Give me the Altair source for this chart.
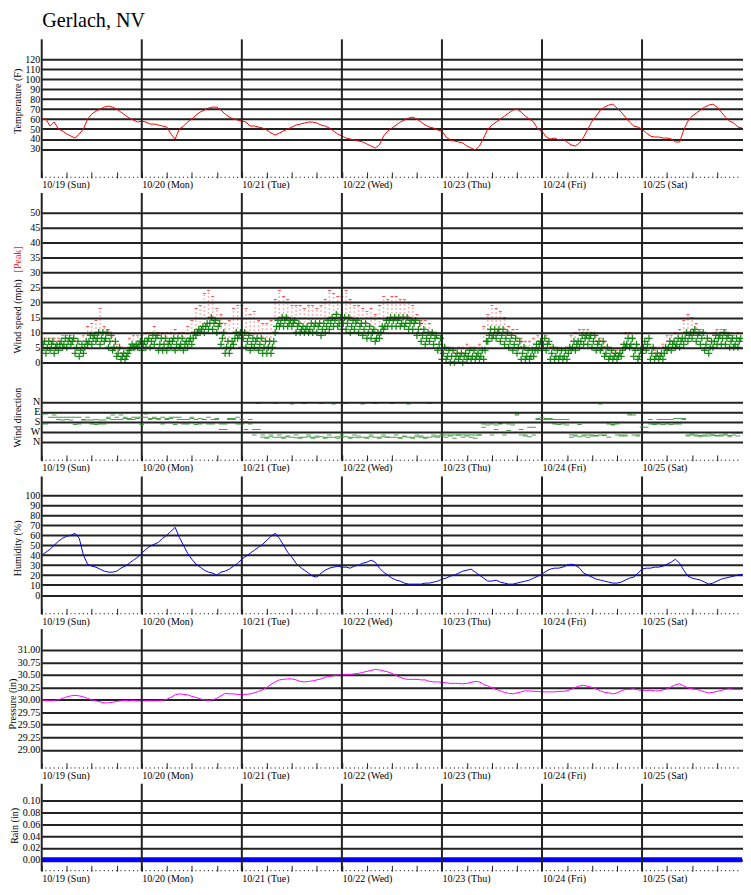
import altair as alt
import pandas as pd

# ---------------- data (hourly) ----------------
DAY_LABELS = ["10/19 (Sun)", "10/20 (Mon)", "10/21 (Tue)", "10/22 (Wed)",
              "10/23 (Thu)", "10/24 (Fri)", "10/25 (Sat)"]
DAY_HOURS = [0, 24, 48, 72, 96, 120, 144]
MAJOR_TICKS = list(range(0, 163, 6))
MINOR_TICKS = list(range(0, 168))

temperature = [
    60, 60, 53, 57, 50, 48, 45, 43, 41, 45, 50, 60, 65, 68, 70, 72, 73, 72, 70, 67, 64, 61, 59, 57,
    58, 57, 55, 55, 54, 53, 52, 45, 40, 50, 53, 57, 60, 64, 67, 69, 71, 72, 72, 69, 65, 62, 60, 59,
    58, 57, 53, 53, 52, 51, 49, 46, 44, 46, 48, 50, 52, 54, 55, 56, 57, 57, 56, 54, 53, 51, 48, 45,
    43, 41, 40, 39, 38, 37, 35, 33, 31, 34, 43, 48, 51, 54, 57, 59, 61, 62, 60, 57, 54, 52, 51, 49,
    48, 42, 39, 38, 37, 36, 33, 31, 29, 33, 41, 50, 54, 57, 60, 63, 66, 69, 70, 67, 63, 60, 57, 50,
    48, 42, 40, 41, 39, 40, 37, 34, 33, 36, 42, 50, 58, 63, 69, 72, 74, 75, 71, 67, 62, 57, 53, 52,
    50, 46, 43, 42, 42, 41, 41, 40, 37, 37, 49, 58, 63, 66, 69, 72, 74, 75, 72, 67, 62, 58, 56, 52, 51]

wind_avg = [
    6, 5, 6, 5, 6, 6, 7, 7, 5, 4, 5, 7, 8, 8, 8, 8, 7, 5, 3, 2, 2, 5, 5, 6,
    6, 7, 7, 8, 6, 6, 6, 7, 6, 6, 6, 7, 8, 10, 11, 12, 13, 13, 12, 8, 5, 5, 8, 9,
    8, 7, 6, 7, 6, 5, 5, 5, 12, 13, 14, 13, 13, 12, 11, 11, 11, 12, 12, 11, 12, 13, 14, 13,
    13, 13, 12, 13, 12, 11, 10, 10, 8, 10, 12, 14, 14, 14, 13, 13, 13, 13, 11, 9, 8, 9, 8, 6,
    3, 2, 2, 2, 2, 2, 2, 2, 2, 2, 4, 9, 9, 10, 9, 8, 7, 6, 5, 3, 2, 2, 4, 6,
    6, 6, 3, 2, 2, 2, 3, 5, 6, 7, 8, 8, 7, 6, 5, 3, 2, 2, 2, 4, 6, 6, 4, 2,
    5, 6, 3, 2, 2, 3, 5, 6, 6, 7, 8, 9, 10, 9, 8, 6, 5, 7, 8, 8, 8, 7, 6, 7]
wind_lo = [
    4, 3, 4, 3, 4, 5, 5, 6, 3, 2, 3, 6, 6, 7, 6, 7, 5, 4, 2, 1, 1, 4, 5, 5,
    4, 5, 5, 6, 4, 4, 4, 5, 4, 5, 4, 5, 6, 9, 10, 10, 11, 11, 10, 6, 3, 3, 6, 8,
    5, 5, 4, 5, 4, 3, 3, 3, 10, 12, 12, 12, 12, 10, 10, 10, 10, 10, 10, 9, 10, 11, 12, 12,
    11, 11, 10, 11, 10, 9, 8, 8, 7, 8, 11, 12, 12, 12, 12, 12, 11, 11, 9, 7, 6, 7, 6, 4,
    1, 1, 0, 0, 1, 0, 1, 1, 1, 1, 1, 7, 8, 8, 7, 6, 5, 4, 3, 1, 1, 1, 2, 4,
    4, 4, 1, 1, 1, 1, 1, 4, 4, 5, 6, 6, 5, 4, 4, 2, 1, 1, 1, 2, 5, 5, 2, 1,
    3, 4, 1, 1, 1, 1, 4, 4, 5, 5, 6, 7, 8, 7, 6, 4, 3, 5, 6, 6, 6, 5, 5, 5]
wind_hi = [
    7, 7, 7, 6, 7, 8, 8, 8, 7, 6, 7, 9, 9, 10, 10, 10, 9, 7, 5, 3, 3, 6, 6, 7,
    7, 8, 9, 9, 8, 8, 7, 8, 8, 8, 7, 8, 10, 11, 12, 13, 15, 14, 13, 10, 7, 7, 10, 10,
    10, 9, 8, 8, 8, 7, 7, 7, 14, 15, 15, 14, 14, 13, 12, 12, 13, 13, 13, 13, 14, 15, 16, 15,
    15, 15, 14, 14, 13, 13, 12, 11, 10, 12, 14, 15, 15, 15, 15, 15, 14, 14, 13, 11, 10, 10, 9, 8,
    5, 4, 4, 3, 3, 3, 4, 4, 3, 4, 7, 11, 11, 11, 11, 10, 9, 8, 7, 5, 4, 4, 6, 7,
    8, 7, 5, 4, 4, 4, 5, 7, 7, 9, 9, 9, 9, 7, 7, 5, 4, 3, 3, 6, 8, 8, 6, 4,
    7, 8, 5, 3, 3, 5, 7, 7, 8, 8, 10, 10, 11, 10, 10, 8, 7, 9, 9, 10, 9, 8, 8, 8]
wind_peak = [
    8, 8, 8, 8, 8, 9, 9, 9, 8, 7, 9, 12, 13, 14, 18, 12, 11, 9, 6, 5, 5, 8, 9, 9,
    9, 10, 10, 12, 10, 10, 10, 10, 11, 10, 10, 12, 14, 18, 19, 23, 24, 22, 18, 16, 13, 14, 18, 19,
    19, 18, 16, 17, 14, 13, 13, 14, 21, 24, 22, 21, 19, 19, 19, 18, 19, 19, 18, 19, 21, 24, 23, 22,
    22, 24, 21, 19, 19, 18, 17, 18, 16, 19, 22, 21, 22, 22, 21, 21, 20, 19, 16, 14, 14, 13, 10, 9,
    6, 5, 5, 4, 5, 5, 6, 5, 5, 6, 12, 16, 19, 18, 17, 15, 12, 11, 11, 8, 7, 7, 8, 9,
    10, 9, 6, 5, 5, 4, 5, 9, 10, 11, 11, 11, 10, 9, 8, 7, 5, 4, 4, 6, 10, 10, 8, 6,
    8, 8, 5, 4, 5, 6, 9, 9, 10, 11, 14, 16, 15, 13, 11, 9, 8, 10, 11, 11, 11, 10, 9, 10]

# wind direction in degrees (0 = N at top, 90 = E, 180 = S, 270 = W, 360 = N)
wind_dir = [
    110, 200, 140, 120, 140, 140, 140, 140, 140, 140, 160, 165, 200, 205, 165, 200, 150, 120, 160, 160, 150, 160, 140, 150,
    140, 110, 150, 150, 160, 140, 160, 150, 140, 140, 200, 160, 150, 160, 200, 160, 200, 160, 150, 250, 200, 160, 150, 140,
    160, 180, 200, 250, 250, 320, 320, 315, 320, 320, 320, 315, 320, 325, 320, 320, 315, 320, 320, 315, 320, 320, 320, 315,
    320, 315, 320, 320, 325, 320, 320, 315, 320, 320, 315, 320, 320, 320, 325, 315, 320, 320, 315, 320, 320, 320, 315, 310,
    300, 300, 300, 300, 300, 300, 300, 300, 300, 300, 200, 190, 200, 210, 195, 190, 200, 190, 110, 300, 310, 315, 230, 160,
    160, 160, 150, 160, 160, 200, 210, 300, 310, 315, 310, 300, 310, 305, 300, 305, 200, 210, 200, 300, 310, 120, 120, 300,
    230, 270, 200, 200, 160, 205, 200, 160, 200, 150, 150, 300, 300, 310, 305, 300, 310, 300, 305, 310, 300, 305, 280, 285]
wind_dir2 = [
    200, 110, 100, 140, 160, 165, 160, 165, 205, 200, 165, 140, 165, 160, 200, 165, 140, 160, 140, 120, 140, 150, 160, 140,
    205, 140, 160, 140, 150, 200, 150, 140, 205, 160, 160, 200, 140, 205, 150, 160, 140, 200, 160, 200, 250, 150, 160, 200,
    200, 250, 160, 300, 15, 300, 330, 300, 15, 300, 330, 310, 20, 300, 330, 15, 300, 330, 310, 15, 330, 300, 20, 330,
    300, 15, 330, 300, 310, 20, 330, 300, 15, 330, 300, 320, 15, 300, 330, 310, 20, 330, 300, 310, 330, 15, 300, 320,
    310, 320, 310, 330, 300, 320, 310, 320, 330, 300, 230, 210, 300, 250, 200, 300, 260, 210, 120, 250, 300, 230, 300, 150,
    140, 150, 160, 200, 205, 160, 160, 320, 300, 205, 300, 320, 300, 310, 20, 300, 320, 205, 300, 310, 300, 110, 300, 310,
    270, 230, 160, 205, 200, 160, 160, 205, 150, 200, 160, 310, 290, 300, 315, 310, 290, 300, 310, 300, 290, 315, 300, 310]

humidity = [
    40, 43, 46, 50, 54, 57, 59, 60, 62, 57, 40, 31, 29, 28, 26, 24, 23, 23, 24, 27, 29, 32, 35, 38,
    42, 46, 49, 51, 53, 57, 60, 64, 68, 58, 50, 42, 36, 31, 28, 25, 23, 22, 20, 23, 24, 26, 29, 32,
    36, 39, 42, 45, 48, 51, 55, 59, 62, 57, 50, 43, 38, 32, 28, 25, 22, 19, 18, 22, 25, 27, 28, 29,
    28, 28, 27, 29, 30, 32, 33, 35, 33, 27, 23, 20, 17, 15, 14, 12, 11, 11, 11, 11, 12, 12, 13, 14,
    16, 17, 19, 20, 22, 24, 25, 26, 23, 20, 17, 14, 14, 15, 13, 12, 11, 11, 12, 13, 14, 15, 17, 19,
    21, 24, 26, 27, 27, 28, 30, 31, 30, 27, 22, 20, 18, 16, 15, 14, 13, 12, 12, 13, 15, 17, 18, 22,
    26, 27, 27, 28, 28, 29, 31, 33, 36, 32, 25, 19, 17, 16, 15, 13, 11, 12, 14, 16, 17, 18, 19, 20, 21]

pressure = [
    29.99, 29.99, 29.98, 29.99, 30.00, 30.03, 30.06, 30.08, 30.09, 30.08, 30.06, 30.03, 30.00, 29.98, 29.96, 29.94, 29.94, 29.95, 29.97, 29.98, 29.99, 29.98, 29.99, 29.98,
    29.98, 29.98, 29.98, 29.98, 29.98, 29.99, 30.01, 30.05, 30.10, 30.12, 30.11, 30.10, 30.07, 30.05, 30.02, 30.00, 29.99, 30.00, 30.03, 30.08, 30.13, 30.12, 30.12, 30.11,
    30.10, 30.11, 30.12, 30.14, 30.17, 30.20, 30.25, 30.31, 30.36, 30.40, 30.41, 30.42, 30.42, 30.40, 30.37, 30.36, 30.37, 30.38, 30.40, 30.42, 30.45, 30.47, 30.48, 30.50,
    30.50, 30.51, 30.51, 30.52, 30.53, 30.55, 30.57, 30.59, 30.61, 30.60, 30.58, 30.56, 30.53, 30.49, 30.45, 30.42, 30.41, 30.41, 30.41, 30.40, 30.40, 30.37, 30.36, 30.36,
    30.35, 30.34, 30.33, 30.33, 30.33, 30.32, 30.33, 30.35, 30.37, 30.36, 30.31, 30.28, 30.24, 30.21, 30.18, 30.15, 30.13, 30.12, 30.14, 30.16, 30.18, 30.18, 30.17, 30.17,
    30.16, 30.16, 30.16, 30.16, 30.17, 30.17, 30.18, 30.21, 30.25, 30.28, 30.29, 30.27, 30.25, 30.22, 30.18, 30.15, 30.14, 30.12, 30.14, 30.18, 30.21, 30.21, 30.22, 30.20,
    30.19, 30.19, 30.19, 30.18, 30.18, 30.20, 30.22, 30.26, 30.30, 30.32, 30.28, 30.24, 30.22, 30.21, 30.19, 30.16, 30.14, 30.15, 30.17, 30.19, 30.21, 30.22, 30.21, 30.21, 30.21]

rain = [0.0] * 169

TEMP_TICKS = [30, 40, 50, 60, 70, 80, 90, 100, 110, 120]
WIND_TICKS = [0, 5, 10, 15, 20, 25, 30, 35, 40, 45, 50]
DIR_TICKS = [0, 90, 180, 270, 360]
DIR_LABELS = ["N", "E", "S", "W", "N"]
HUM_TICKS = [0, 10, 20, 30, 40, 50, 60, 70, 80, 90, 100]
PRES_TICKS = [29.0, 29.25, 29.5, 29.75, 30.0, 30.25, 30.5, 30.75, 31.0]
RAIN_TICKS = [0.0, 0.02, 0.04, 0.06, 0.08, 0.10]

# ---------------- styling ----------------
FONT = "Liberation Serif"
GRID = "#222222"
PX_DAY = 100.87
W = 707
XMAX = W / PX_DAY * 24
FS = 10.1

df_days = pd.DataFrame({"h": DAY_HOURS})
df_minor = pd.DataFrame({"h": MINOR_TICKS})

label_expr = ("datum.value % 24 == 0 ? " + str(DAY_LABELS) +
              "[datum.value / 24] : ''")

xscale = alt.Scale(domain=[0, XMAX], nice=False, zero=False)
xaxis = alt.Axis(values=MAJOR_TICKS, labelExpr=label_expr, labelAlign="left",
                 labelBaseline="top", labelPadding=2, labelFlush=False,
                 labelOverlap=False, tickSize=6, tickColor=GRID, tickWidth=1,
                 offset=-6, domain=False, grid=False, title=None,
                 labelFont=FONT, labelFontSize=FS, labelColor="black")


def X(field="h"):
    return alt.X(f"{field}:Q", scale=xscale, axis=xaxis)


def yaxis(values, title, tx, ty, fmt=None, label_expr=None, z=0, orient="left"):
    kw = dict(values=values, title=title, titleX=tx, titleY=ty, titleAngle=270,
              titleAlign="center", titleBaseline="bottom", titleFont=FONT,
              titleFontSize=FS, titleFontWeight="normal", titleColor="black",
              labelFont=FONT, labelFontSize=FS, labelColor="black",
              labelPadding=2, ticks=False, tickSize=0, domain=False,
              grid=True, gridColor=GRID, gridWidth=2, gridOpacity=1,
              labelOverlap=False, labelFlush=False, zindex=z, orient=orient)
    if fmt:
        kw["format"] = fmt
    if label_expr:
        kw["labelExpr"] = label_expr
    return alt.Axis(**kw)


def frame_layers(H):
    days = alt.Chart(df_days).mark_rule(color=GRID, strokeWidth=2).encode(x=X())
    minor = alt.Chart(df_minor).mark_rule(color=GRID, strokeWidth=1).encode(
        x=X(), y=alt.value(H - 1.2), y2=alt.value(H))
    return [days, minor]


hours = list(range(169))
hours168 = list(range(168))

# ---- temperature ----
H_T = 139.7
df_t = pd.DataFrame({"h": hours, "v": temperature})
temp_line = alt.Chart(df_t).mark_line(color="#ff0000", strokeWidth=1, clip=True).encode(
    x=X(),
    y=alt.Y("v:Q", scale=alt.Scale(domain=[1, 140], nice=False, zero=False),
            axis=yaxis(TEMP_TICKS, "Temperature (F)", -19, 62)))
temp = alt.layer(temp_line, *frame_layers(H_T)).properties(width=W, height=H_T)

# ---- wind speed + direction ----
H_W = 270.1
speed_scale = alt.Scale(domain=[-33, 56.67], nice=False, zero=False)
speed_axis = yaxis(WIND_TICKS, "Wind speed (mph)", -19, 124, z=1)
df_peak = pd.DataFrame({"h": hours168, "hi": wind_hi, "peak": wind_peak})
# three readings per hour (start, 20 min, 40 min)
df_cross = pd.DataFrame({
    "h": hours168 + [h + 1 / 3 for h in hours168] + [h + 2 / 3 for h in hours168],
    "v": wind_lo + wind_avg + wind_hi})
peak_rule = alt.Chart(df_peak).mark_rule(color="#ff3030", strokeWidth=1.5,
                                         strokeDash=[1, 3], opacity=0.75,
                                         clip=True).encode(
    x=X(), y=alt.Y("hi:Q", scale=speed_scale, axis=speed_axis), y2="peak:Q")
peak_tick = alt.Chart(df_peak).mark_tick(color="#ff3030", orient="horizontal",
                                         size=3, thickness=1, opacity=0.8,
                                         clip=True).encode(
    x=X(), y=alt.Y("peak:Q", scale=speed_scale, axis=speed_axis))
crosses = alt.Chart(df_cross).mark_point(
    shape="M-1,0L1,0M0,-1L0,1", filled=False, size=50, strokeWidth=1.3,
    color="#008000", opacity=0.9, clip=True).encode(
    x=X(), y=alt.Y("v:Q", scale=speed_scale, axis=speed_axis))
peak_label = alt.Chart(pd.DataFrame({"t": ["[Peak]"]})).mark_text(
    angle=270, color="#ff2020", font=FONT, fontSize=FS, baseline="bottom",
    align="center").encode(text="t:N", x=alt.value(-19), y=alt.value(67))
speed_group = alt.layer(peak_rule, peak_tick, crosses, peak_label,
                        *frame_layers(H_W))

df_dir = pd.DataFrame({"h": hours168 * 2, "d": wind_dir + wind_dir2})
dir_marks = alt.Chart(df_dir).mark_tick(color="#2f8f2f", orient="horizontal",
                                        size=4.6, thickness=1, opacity=0.85,
                                        clip=True).encode(
    x=X(),
    y=alt.Y("d:Q", scale=alt.Scale(domain=[-1887.3, 533.7], nice=False,
                                   zero=False, reverse=True),
            axis=yaxis(DIR_TICKS, "Wind direction", -19, 226,
                       label_expr=str(DIR_LABELS) + "[datum.value / 90]", z=1)))
wind = alt.layer(speed_group, dir_marks).resolve_scale(y="independent").properties(
    width=W, height=H_W)

# ---- humidity ----
H_H = 138.9
df_h = pd.DataFrame({"h": hours, "v": humidity})
hum_line = alt.Chart(df_h).mark_line(color="#0000ff", strokeWidth=1, clip=True).encode(
    x=X(),
    y=alt.Y("v:Q", scale=alt.Scale(domain=[-19.3, 119], nice=False, zero=False),
            axis=yaxis(HUM_TICKS, "Humidity (%)", -19, 72)))
hum = alt.layer(hum_line, *frame_layers(H_H)).properties(width=W, height=H_H)

# ---- pressure ----
H_P = 140.6
df_p = pd.DataFrame({"h": hours, "v": pressure})
pres_line = alt.Chart(df_p).mark_line(color="#ff00ff", strokeWidth=1, clip=True).encode(
    x=X(),
    y=alt.Y("v:Q", scale=alt.Scale(domain=[28.624, 31.416], nice=False, zero=False),
            axis=yaxis(PRES_TICKS, "Pressure (in)", -24, 75, fmt=".2f")))
pres = alt.layer(pres_line, *frame_layers(H_P)).properties(width=W, height=H_P)

# ---- rain ----
H_R = 88.2
df_r = pd.DataFrame({"h": hours, "v": rain})
rain_line = alt.Chart(df_r).mark_line(color="#0000ff", strokeWidth=5, clip=True).encode(
    x=X(),
    y=alt.Y("v:Q", scale=alt.Scale(domain=[-0.01917, 0.128], nice=False, zero=False),
            axis=yaxis(RAIN_TICKS, "Rain (in)", -22, 42, fmt=".2f")))
rain_chart = alt.layer(rain_line, *frame_layers(H_R)).properties(width=W, height=H_R)

chart = alt.vconcat(temp, wind, hum, pres, rain_chart, spacing=1.87).properties(
    title=alt.TitleParams("Gerlach, NV", anchor="start", font=FONT, fontSize=20.3,
                          fontWeight="normal", color="black", dx=34.5, offset=6.7),
    padding={"left": 0, "top": 0, "right": 0, "bottom": 0},
    background="white",
).configure_view(stroke=None)

chart.save("out.html", embed_options={"renderer": "svg", "actions": False})
